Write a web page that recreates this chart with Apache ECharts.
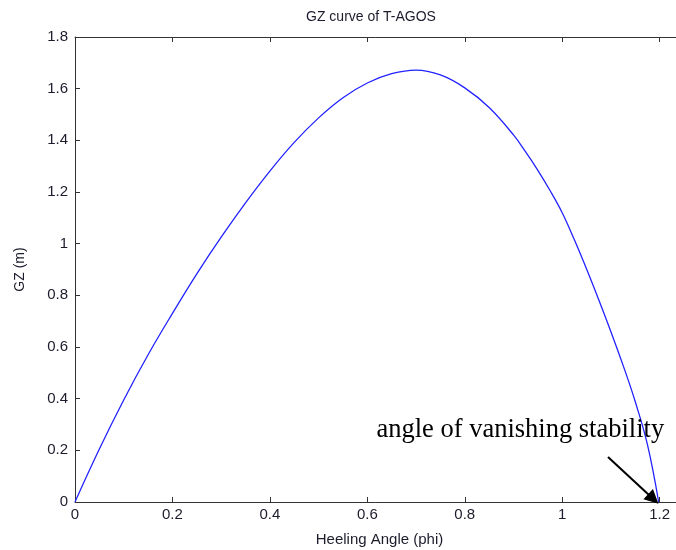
<!DOCTYPE html>
<html>
<head>
<meta charset="utf-8">
<script src="https://cdn.jsdelivr.net/npm/echarts@6/dist/echarts.min.js"></script>
<style>
html,body{margin:0;padding:0;background:#fff;}
#chart{width:676px;height:550px;}
</style>
</head>
<body>
<div id="chart"></div>
<script>
// Heeling angle (rad) and GZ (m)
var phi = [0, 0.05, 0.1, 0.15, 0.2, 0.25, 0.3, 0.35, 0.4, 0.45, 0.5, 0.55, 0.6, 0.65, 0.7, 0.75, 0.8, 0.85, 0.9, 0.925, 0.95, 0.975, 1.0, 1.025, 1.05, 1.075, 1.1, 1.125, 1.15, 1.175, 1.198];
var gz  = [0, 0.205, 0.395, 0.57, 0.73, 0.883, 1.025, 1.158, 1.281, 1.392, 1.487, 1.565, 1.622, 1.658, 1.672, 1.653, 1.603, 1.527, 1.421, 1.355, 1.284, 1.206, 1.12, 1.015, 0.902, 0.783, 0.659, 0.529, 0.388, 0.222, 0];
var xTicks = [0, 0.2, 0.4, 0.6, 0.8, 1, 1.2];
var yTicks = [0, 0.2, 0.4, 0.6, 0.8, 1, 1.2, 1.4, 1.6, 1.8];
var titleText = 'GZ curve of T-AGOS';
var xName = 'Heeling Angle (phi)';
var yName = 'GZ (m)';
var noteText = 'angle of vanishing stability';
var arrowFrom = [1.094, 0.174];
var arrowTo = [1.187, 0.012];
var notePos = [0.914, 0.28];

var data = phi.map(function (p, i) { return [p, gz[i]]; });
var chart = echarts.init(document.getElementById('chart'));
var labelFont = {color: '#1c1c2c', fontFamily: 'Liberation Sans, Arial, sans-serif', fontSize: 15};
var lineStyle = {color: '#333', width: 1};
chart.setOption({
  animation: false,
  backgroundColor: '#fff',
  title: {
    text: titleText, left: 366, top: 5, textAlign: 'center',
    textStyle: {fontFamily: 'Liberation Sans, Arial, sans-serif', fontSize: 14, fontWeight: 'normal', color: '#1c1c2c'}
  },
  grid: {left: 75, width: 609, top: 37, bottom: 48, outerBoundsMode: 'none', containLabel: false},
  xAxis: [{
    type: 'value', min: 0, max: 1.25, interval: 0.2, position: 'bottom',
    name: xName, nameLocation: 'middle', nameGap: 30,
    nameTextStyle: {fontFamily: 'Liberation Sans, Arial, sans-serif', fontSize: 15, color: '#1c1c2c'},
    axisLine: {show: true, lineStyle: lineStyle},
    axisTick: {show: true, inside: true, length: 5, lineStyle: lineStyle},
    axisLabel: Object.assign({showMaxLabel: false, margin: 5, formatter: function (v) { var r = Math.round(v*10)/10; return xTicks.indexOf(r) >= 0 ? String(r) : ''; }}, labelFont),
    splitLine: {show: false}
  }, {
    type: 'value', min: 0, max: 1.25, interval: 0.2, position: 'top',
    axisLine: {show: true, onZero: false, lineStyle: lineStyle},
    axisTick: {show: true, inside: true, length: 5, lineStyle: lineStyle},
    axisLabel: {show: false}, splitLine: {show: false}
  }],
  yAxis: [{
    type: 'value', min: 0, max: 1.8, interval: 0.2, position: 'left',
    name: yName, nameLocation: 'middle', nameGap: 48, nameRotate: 90,
    nameTextStyle: {fontFamily: 'Liberation Sans, Arial, sans-serif', fontSize: 14, color: '#1c1c2c'},
    axisLine: {show: true, lineStyle: lineStyle},
    axisTick: {show: true, inside: true, length: 5, lineStyle: lineStyle},
    axisLabel: Object.assign({margin: 7, formatter: function (v) { var r = Math.round(v*10)/10; return yTicks.indexOf(r) >= 0 ? String(r) : ''; }}, labelFont),
    splitLine: {show: false}
  }, {
    type: 'value', min: 0, max: 1.8, interval: 0.2, position: 'right',
    axisLine: {show: true, onZero: false, lineStyle: lineStyle},
    axisTick: {show: true, inside: true, length: 5, lineStyle: lineStyle},
    axisLabel: {show: false}, splitLine: {show: false}
  }],
  series: [{
    type: 'line', data: data, smooth: 0.4, showSymbol: false, symbol: 'none',
    lineStyle: {color: '#2222ff', width: 1.3},
    markLine: {
      silent: true, symbol: ['none', 'triangle'], symbolSize: 14,
      lineStyle: {color: '#000', width: 2, type: 'solid'},
      label: {show: false},
      data: [[{coord: arrowFrom}, {coord: arrowTo}]]
    },
    markPoint: {
      silent: true, symbol: 'circle', symbolSize: 0,
      data: [{coord: notePos, value: noteText,
        label: {show: true, position: 'inside', formatter: noteText,
          fontFamily: 'Liberation Serif, Times New Roman, serif', fontSize: 26.5, color: '#000'}}]
    }
  }]
});
</script>
</body>
</html>
